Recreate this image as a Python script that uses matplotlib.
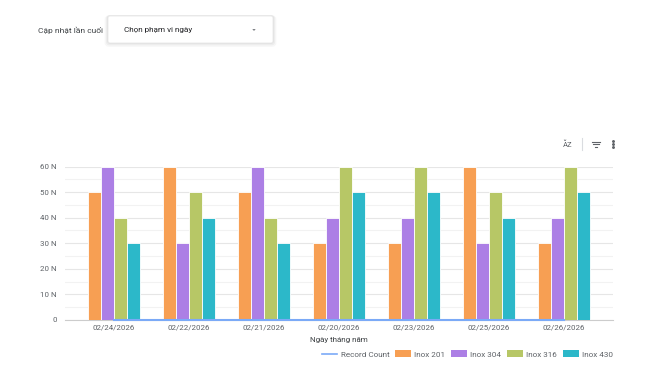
import numpy as np
import matplotlib.pyplot as plt
from matplotlib.patches import FancyBboxPatch, Rectangle
from matplotlib.lines import Line2D

plt.rcParams['font.family'] = ['Roboto', 'DejaVu Sans']

dates = ['02/24/2026', '02/22/2026', '02/21/2026', '02/20/2026',
         '02/23/2026', '02/25/2026', '02/26/2026']
inox_201 = [50, 60, 50, 30, 30, 60, 30]
inox_304 = [60, 30, 60, 40, 40, 30, 40]
inox_316 = [40, 50, 40, 60, 60, 50, 60]
inox_430 = [30, 40, 30, 50, 50, 40, 50]
record_count = [0, 0, 0, 0, 0, 0, 0]

series = [('Inox 201', inox_201, '#F79F53'),
          ('Inox 304', inox_304, '#AC7FE5'),
          ('Inox 316', inox_316, '#B7C766'),
          ('Inox 430', inox_430, '#2CB8C9')]
line_color = '#7BAAF7'
text_gray = '#5f6368'

W, H = 665, 377
fig = plt.figure(figsize=(W / 100, H / 100), dpi=100)
fig.patch.set_facecolor('white')

# header controls (drawn in pixel coords)
ov = fig.add_axes([0, 0, 1, 1])
ov.set_xlim(0, W)
ov.set_ylim(H, 0)
ov.axis('off')
ov.text(103, 30, 'Cập nhật lần cuối', ha='right', va='center', fontsize=6.0, color='#3c4043')
for i, a in enumerate([0.05, 0.04, 0.03]):
    ov.add_patch(FancyBboxPatch((108 - i * 0.6, 16 + i * 0.8), 165 + i * 1.2, 27, boxstyle='round,pad=0,rounding_size=2',
                                fc='none', ec='black', lw=1.2 + i, alpha=a))
ov.add_patch(FancyBboxPatch((108, 16), 165, 27, boxstyle='round,pad=0,rounding_size=2',
                            fc='white', ec='#e8e8e8', lw=0.6))
ov.text(124, 30, 'Chọn phạm vi ngày', ha='left', va='center', fontsize=5.9, color='#202124')
ov.fill([252.3, 255.7, 254], [29.2, 29.2, 30.8], color='#5f6368', lw=0)

# toolbar icons
ov.text(568, 144, 'A\u0306Z', ha='center', va='center', fontsize=5.5, color='#5f6368')
ov.plot([582, 582], [138, 150], color='#dadce0', lw=0.8)
for dy, half in [(-2.5, 4), (0, 2.8), (2.5, 1.4)]:
    ov.plot([596 - half, 596 + half], [144 + dy, 144 + dy], color='#5f6368', lw=0.8)
for dy in [-3, 0, 3]:
    ov.plot([613], [144 + dy], 'o', ms=1.1, color='#5f6368')

# chart
ax = fig.add_axes([65 / W, 1 - 320 / H, (613 - 65) / W, (320 - 166.5) / H])
x = np.arange(len(dates))
bw = 0.173
for k, (name, vals, col) in enumerate(series):
    ax.bar(x + (k - 1.5) * bw, vals, width=bw, color=col, edgecolor='white', linewidth=0.6,
           label=name, zorder=3)
ax.plot(x, record_count, color=line_color, lw=1.5, zorder=4, label='Record Count', clip_on=False)

ax.set_xlim(-0.647, len(dates) - 1 + 0.653)
ax.set_ylim(0, 60)
ax.set_yticks(range(0, 61, 10))
ax.set_yticklabels(['0'] + [f'{v} N' for v in range(10, 61, 10)])
ax.set_yticks(range(5, 60, 10), minor=True)
ax.grid(axis='y', which='major', color='#e6e6e6', lw=0.8, zorder=0)
ax.grid(axis='y', which='minor', color='#f2f2f2', lw=0.8, zorder=0)
ax.set_xticks(x)
ax.set_xticklabels(dates)
ax.tick_params(axis='both', which='both', length=0, labelsize=5.7, labelcolor=text_gray)
ax.tick_params(axis='y', pad=6)
ax.tick_params(axis='x', pad=3)
for s in ['top', 'right', 'left']:
    ax.spines[s].set_visible(False)
ax.spines['bottom'].set_color('#cccccc')
ax.spines['bottom'].set_linewidth(0.8)
ax.set_xlabel('Ngày tháng năm', fontsize=5.8, color='#3c4043', labelpad=5)

handles = [Line2D([0], [0], color=line_color, lw=1.2)] + \
          [Rectangle((0, 0), 1, 1, fc=c, ec='none') for _, _, c in series]
labels = ['Record Count'] + [n for n, _, _ in series]
fig.legend(handles, labels, loc='center right', bbox_to_anchor=(613 / W, 1 - 354 / H), ncol=5,
           frameon=False, fontsize=5.9, labelcolor=text_gray, handlelength=1.95, handleheight=0.9,
           handletextpad=0.37, columnspacing=0.73, borderpad=0, borderaxespad=0)

fig.savefig('out.png', dpi=100, facecolor='white')
